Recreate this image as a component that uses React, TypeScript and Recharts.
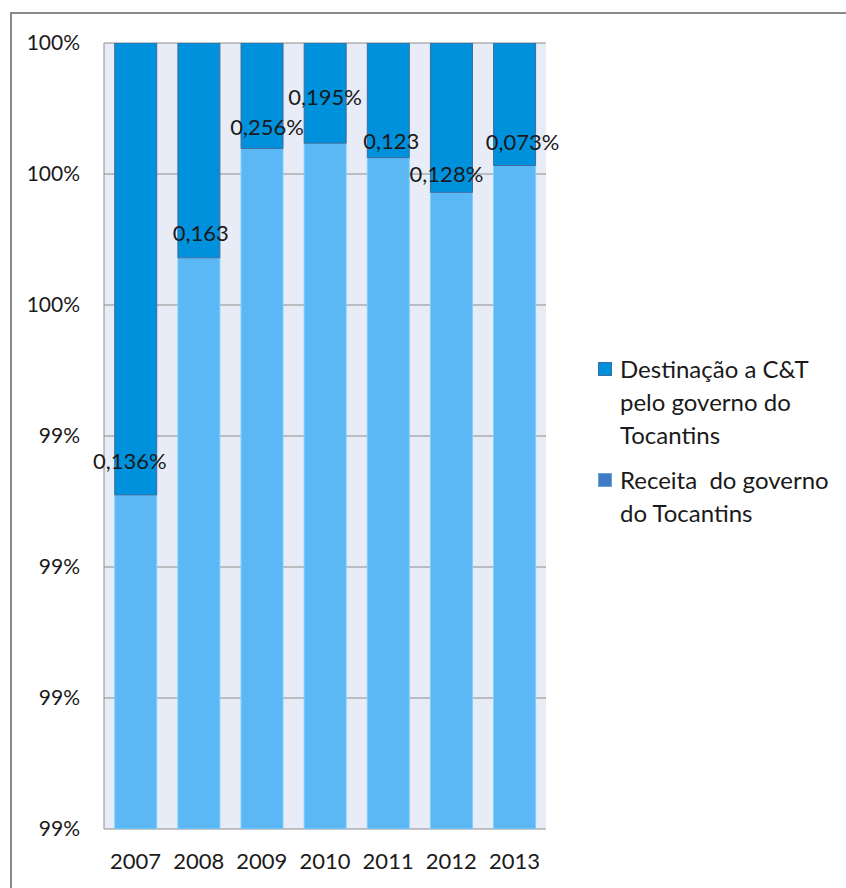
import { BarChart, Bar, XAxis, YAxis, CartesianGrid, LabelList } from "recharts";

const years = ["2007", "2008", "2009", "2010", "2011", "2012", "2013"];
// share of the total (%); each pair adds to 100
const receita = [99.31, 99.672, 99.839, 99.847, 99.825, 99.772, 99.813];
const destinacao = [0.69, 0.328, 0.161, 0.153, 0.175, 0.228, 0.187];
const labels = ["0,136%", "0,163", "0,256%", "0,195%", "0,123", "0,128%", "0,073%"];
const yTicks = [98.8, 99, 99.2, 99.4, 99.6, 99.8, 100];

const data = years.map((year, i) => ({
  year,
  receita: receita[i],
  destinacao: destinacao[i],
  label: labels[i],
}));

// hand placement of the data labels, like in the original sheet
const labelNudge: [number, number][] = [
  [-6, -34],
  [2, -25],
  [5, -22],
  [0, -47],
  [3, -17],
  [-5, -19],
  [8, -24],
];

const FONT = "Lato, 'Open Sans', sans-serif";

const renderLabel = (props: any) => {
  const { x, y, width, height, value } = props;
  const i = labels.indexOf(value);
  const [dx, dy] = labelNudge[i] || [0, -24];
  return (
    <text
      x={x + width / 2 + dx}
      y={y + height + dy}
      textAnchor="middle"
      dominantBaseline="central"
      fontSize={22}
      fill="#1a1a1a"
      fontFamily={FONT}
    >
      {value}
    </text>
  );
};

export default function App() {
  return (
    <div
      style={{
        position: "absolute",
        left: 0,
        top: 0,
        width: 846,
        height: 888,
        overflow: "hidden",
        background: "#fff",
        fontFamily: FONT,
      }}
    >
      {/* chart frame */}
      <div
        style={{
          position: "absolute",
          left: 10,
          top: 12,
          width: 900,
          height: 950,
          border: "2px solid #8a8a8a",
        }}
      />
      <div style={{ position: "absolute", left: 0, top: 0 }}>
        <BarChart
          width={846}
          height={888}
          data={data}
          barCategoryGap="17%"
          margin={{ top: 43, right: 300, bottom: 9, left: 0 }}
        >
          <CartesianGrid vertical={false} stroke="#8c8c8c" fill="#e8ecf7" />
          <XAxis
            dataKey="year"
            axisLine={false}
            tickLine={false}
            tickMargin={18}
            height={50}
            tick={{ fontSize: 22, fill: "#1a1a1a", fontFamily: FONT }}
          />
          <YAxis
            width={104}
            type="number"
            domain={[98.8, 100]}
            ticks={yTicks}
            allowDataOverflow
            axisLine={{ stroke: "#8c8c8c" }}
            tickLine={false}
            tickSize={8}
            tickMargin={16}
            tickFormatter={(v: number) => `${Math.round(v)}%`}
            tick={{ fontSize: 21, fill: "#1a1a1a", fontFamily: FONT }}
          />
          <Bar
            dataKey="receita"
            stackId="a"
            fill="#5bb8f5"
            stroke="#7fd0ff"
            isAnimationActive={false}
          />
          <Bar
            dataKey="destinacao"
            stackId="a"
            fill="#0091dd"
            stroke="#3d6c9e"
            isAnimationActive={false}
          >
            <LabelList dataKey="label" content={renderLabel} />
          </Bar>
        </BarChart>
      </div>

      {/* legend */}
      <div
        style={{
          position: "absolute",
          left: 598,
          top: 352,
          fontSize: 24,
          lineHeight: "33px",
          color: "#1a1a1a",
          whiteSpace: "pre",
        }}
      >
        <div style={{ position: "relative", paddingLeft: 22 }}>
          <span
            style={{
              position: "absolute",
              left: 0,
              top: 10,
              width: 14,
              height: 14,
              background: "#0091dd",
              border: "1px solid #3d6c9e",
              boxSizing: "border-box",
            }}
          />
          {"Destinação a C&T\npelo governo do\nTocantins"}
        </div>
        <div style={{ position: "relative", paddingLeft: 22, marginTop: 12 }}>
          <span
            style={{
              position: "absolute",
              left: 0,
              top: 10,
              width: 14,
              height: 14,
              background: "#3e7cc4",
              border: "1px solid #6fa0d8",
              boxSizing: "border-box",
            }}
          />
          {"Receita  do governo\ndo Tocantins"}
        </div>
      </div>
    </div>
  );
}
